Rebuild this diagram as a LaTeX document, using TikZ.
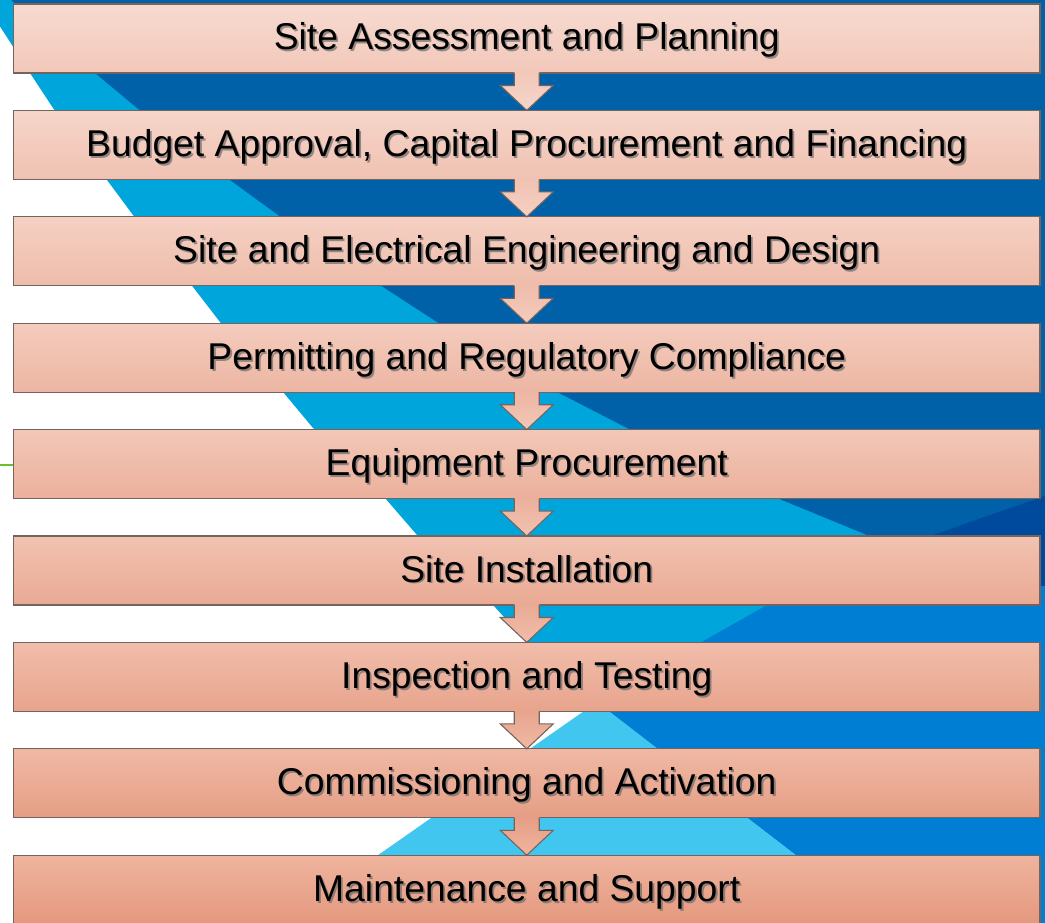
\documentclass[tikz,border=0pt]{standalone}
\usepackage{fontspec}
\setmainfont{Liberation Sans}
\usetikzlibrary{calc}
\begin{document}
\begin{tikzpicture}[x=1pt,y=-1pt,
  stepbox/.style={draw=edgegray, line width=1.1pt, inner sep=0pt, outer sep=0pt,
    minimum width=1026.5pt, minimum height=69pt},
  steplabel/.style={anchor=base, inner sep=0pt, text=black,
    font=\fontsize{37.3}{44}\selectfont},
  labelshadow/.style={steplabel, text=shadowgray, opacity=0.7},
  arrowline/.style={draw=edgegray, line width=1.1pt, line join=miter}]
\definecolor{bgLight}{HTML}{00A6DB}
\definecolor{bgDark}{HTML}{0060A8}
\definecolor{bgDeep}{HTML}{004A9E}
\definecolor{bgMid}{HTML}{007ED3}
\definecolor{bgPale}{HTML}{40C6EF}
\definecolor{topA}{HTML}{F7DAD0}
\definecolor{topB}{HTML}{EFB49E}
\definecolor{botA}{HTML}{F2C8BA}
\definecolor{botB}{HTML}{E4987E}
\definecolor{edgegray}{HTML}{74645F}
\definecolor{shadowgray}{HTML}{6A6A6A}
\definecolor{accentgreen}{HTML}{6CBE2A}

\useasboundingbox (0,0) rectangle (1045,923);

% background panels
\fill[white] (0,0) rectangle (1045,923);
\fill[bgLight] (-17,0) -- (30,73) -- (53,108) -- (107,180) -- (133,215)
  -- (193,287) -- (220,322) -- (283,392) -- (313,428) -- (385,498)
  -- (417,535) -- (493,605) -- (527,642) -- (595,703) -- (1045,703)
  -- (1045,0) -- cycle;
\fill[bgDark] (11,0) -- (95,73) -- (137,108) -- (230,180) -- (278,215)
  -- (383,287) -- (437,322) -- (557,392) -- (627,428) -- (777,498)
  -- (867,535) -- (1045,603) -- (1045,0) -- cycle;
\fill[bgDeep] (1045,496) -- (933,535) -- (890,565) -- (1045,590) -- cycle;
\fill[bgMid] (596,702) -- (700,643) -- (767,605) -- (1045,586)
  -- (1045,923) -- (884,923) -- cycle;
\fill[bgPale] (597,702) -- (281,923) -- (884,923) -- cycle;
\draw[accentgreen, line width=2pt] (0,464.5) -- (13.5,464.5);

% process steps
\foreach \i/\txt in {0/{Site Assessment and Planning},
    1/{Budget Approval, Capital Procurement and Financing},
    2/{Site and Electrical Engineering and Design},
    3/{Permitting and Regulatory Compliance},
    4/{Equipment Procurement},
    5/{Site Installation},
    6/{Inspection and Testing},
    7/{Commissioning and Activation},
    8/{Maintenance and Support}}{
  \pgfmathtruncatemacro\pct{round(\i*12.5)}
  \pgfmathsetmacro\cy{4+106.4*\i+34.5}
  \colorlet{ctop}{topB!\pct!topA}
  \colorlet{cbot}{botB!\pct!botA}
  \node[stepbox, top color=ctop, bottom color=cbot] (b\i) at (526.75,\cy) {};
  \node[labelshadow] (s\i) at ([xshift=1.8pt,yshift=-47.8pt]b\i.north) {\txt};
  \node[steplabel] (t\i) at ([yshift=-46pt]b\i.north) {\txt};
}

% connecting block arrows
\foreach \i in {0,...,7}{
  \pgfmathtruncatemacro\j{\i+1}
  \pgfmathtruncatemacro\pct{round(\i*12.5)}
  \pgfmathtruncatemacro\pctn{round(\j*12.5)}
  \colorlet{abot}{botB!\pct!botA}
  \colorlet{atop}{topB!\pctn!topA}
  \shade[top color=abot, bottom color=atop]
    ([xshift=-12.5pt,yshift=1.2pt]b\i.south)
    -- ([xshift=-12.5pt,yshift=-12.5pt]b\i.south)
    -- ([xshift=-26.5pt,yshift=-12.5pt]b\i.south)
    -- (b\j.north)
    -- ([xshift=26.5pt,yshift=-12.5pt]b\i.south)
    -- ([xshift=12.5pt,yshift=-12.5pt]b\i.south)
    -- ([xshift=12.5pt,yshift=1.2pt]b\i.south) -- cycle;
  \draw[arrowline]
    ([xshift=-12.5pt]b\i.south)
    -- ([xshift=-12.5pt,yshift=-12.5pt]b\i.south)
    -- ([xshift=-26.5pt,yshift=-12.5pt]b\i.south)
    -- (b\j.north)
    -- ([xshift=26.5pt,yshift=-12.5pt]b\i.south)
    -- ([xshift=12.5pt,yshift=-12.5pt]b\i.south)
    -- ([xshift=12.5pt]b\i.south);
}
\end{tikzpicture}
\end{document}
